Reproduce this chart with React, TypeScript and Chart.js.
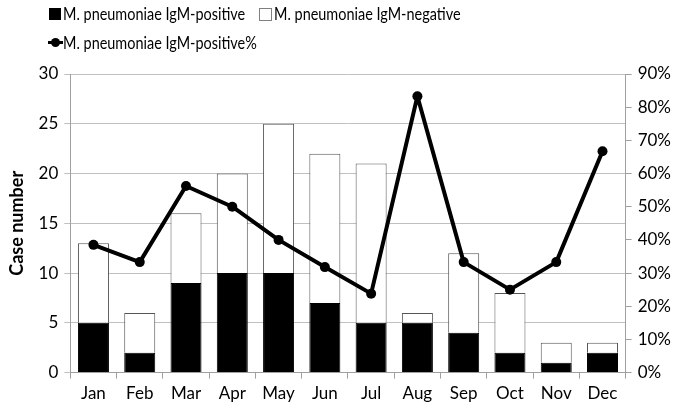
import React, { useEffect, useRef } from "react";
import { Chart, registerables } from "chart.js";

Chart.register(...registerables);

const months = ["Jan", "Feb", "Mar", "Apr", "May", "Jun", "Jul", "Aug", "Sep", "Oct", "Nov", "Dec"];
const positiveCases = [5, 2, 9, 10, 10, 7, 5, 5, 4, 2, 1, 2];
const negativeCases = [8, 4, 7, 10, 15, 15, 16, 1, 8, 6, 2, 1];
const positivePercent = [0.385, 0.333, 0.5625, 0.5, 0.4, 0.318, 0.238, 0.833, 0.333, 0.25, 0.333, 0.667];

const FONT = "Lato";

export default function App() {
  const ref = useRef<HTMLCanvasElement | null>(null);

  useEffect(() => {
    if (!ref.current) return;
    const chart = new Chart(ref.current, {
      type: "bar",
      data: {
        labels: months,
        datasets: [
          {
            type: "line",
            label: "M. pneumoniae IgM-positive%",
            data: positivePercent,
            yAxisID: "y2",
            borderColor: "#000",
            backgroundColor: "#000",
            borderWidth: 4,
            borderJoinStyle: "round",
            pointRadius: 5,
            pointBackgroundColor: "#000",
            pointBorderWidth: 0,
            tension: 0,
            order: 0,
          },
          {
            label: "M. pneumoniae IgM-positive",
            data: positiveCases,
            backgroundColor: "#000",
            borderColor: "#000",
            borderWidth: 1,
            stack: "s",
            yAxisID: "y",
            categoryPercentage: 1,
            barPercentage: 0.67,
            order: 1,
          },
          {
            label: "M. pneumoniae IgM-negative",
            data: negativeCases,
            backgroundColor: "#fff",
            borderColor: "#555",
            borderWidth: 1,
            stack: "s",
            yAxisID: "y",
            categoryPercentage: 1,
            barPercentage: 0.67,
            order: 1,
          },
        ],
      },
      options: {
        animation: false,
        responsive: false,
        maintainAspectRatio: false,
        layout: { padding: { top: 74, left: 6, right: 6, bottom: 7 } },
        plugins: { legend: { display: false }, tooltip: { enabled: false } },
        scales: {
          x: {
            stacked: true,
            offset: true,
            grid: { display: true, drawOnChartArea: false, offset: true, color: "#a0a0a0", tickLength: 6 },
            border: { color: "#a0a0a0" },
            ticks: { color: "#000", font: { family: FONT, size: 17 }, padding: 5 },
          },
          y: {
            stacked: true,
            position: "left",
            min: 0,
            max: 30,
            ticks: { stepSize: 5, color: "#000", font: { family: FONT, size: 17 }, padding: 6 },
            grid: { color: "#c0c0c0", tickLength: 6 },
            border: { color: "#a0a0a0" },
            title: {
              display: true,
              text: "Case number",
              color: "#000",
              font: { family: FONT, size: 18, weight: "bold" },
              padding: { top: 0, bottom: 5 },
            },
          },
          y2: {
            position: "right",
            min: 0,
            max: 0.9,
            ticks: {
              stepSize: 0.1,
              color: "#000",
              font: { family: FONT, size: 17 },
              padding: 6,
              callback: (v: any) => Math.round(Number(v) * 100) + "%",
            },
            grid: { drawOnChartArea: false, color: "#a0a0a0", tickLength: 6 },
            border: { color: "#a0a0a0" },
          },
        },
      },
    });
    return () => chart.destroy();
  }, []);

  const textStyle = (left: number, top: number): React.CSSProperties => ({
    position: "absolute",
    left,
    top,
    fontFamily: FONT,
    fontSize: 17,
    color: "#000",
    whiteSpace: "nowrap",
    lineHeight: "20px",
    transform: "scaleX(0.85)",
    transformOrigin: "left center",
  });

  return (
    <div style={{ position: "fixed", left: 0, top: 0, width: 683, height: 416, background: "#fff" }}>
      <canvas ref={ref} width={683} height={416} style={{ position: "absolute", left: 0, top: 0 }} />
      <span style={{ position: "absolute", left: 49, top: 8, width: 12, height: 12, background: "#000" }} />
      <span style={textStyle(63, 4)}>M. pneumoniae IgM-positive</span>
      <span style={{ position: "absolute", left: 259, top: 8, width: 11, height: 11, background: "#fff", border: "1px solid #808080" }} />
      <span style={textStyle(274, 4)}>M. pneumoniae IgM-negative</span>
      <span style={{ position: "absolute", left: 48, top: 41, width: 15, height: 3, background: "#000" }} />
      <span style={{ position: "absolute", left: 51, top: 38, width: 9, height: 9, borderRadius: "50%", background: "#000" }} />
      <span style={textStyle(63, 33)}>M. pneumoniae IgM-positive%</span>
    </div>
  );
}
